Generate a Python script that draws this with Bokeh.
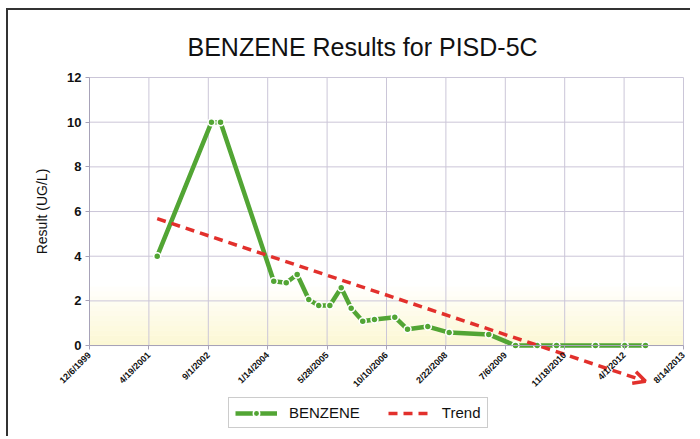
import numpy as np
import pandas as pd
from bokeh.plotting import figure
from bokeh.models import (FixedTicker, Legend, LegendItem, Arrow, OpenHead,
                          BoxAnnotation)
from bokeh.embed import file_html
from bokeh.resources import INLINE

# ---------------- data ----------------
sample_dates = ["2001-06-28", "2002-09-28", "2002-12-13", "2004-03-05", "2004-06-18",
                "2004-09-18", "2004-12-25", "2005-03-19", "2005-06-20", "2005-09-24",
                "2005-12-17", "2006-03-24", "2006-07-01", "2006-12-19", "2007-04-05",
                "2007-09-23", "2008-03-21", "2009-02-17", "2009-09-30", "2010-04-01",
                "2010-09-10", "2011-08-04", "2012-04-07", "2012-09-28"]
benzene = [4.0, 10.0, 10.0, 2.88, 2.81, 3.18, 2.06, 1.79, 1.79, 2.59,
           1.67, 1.09, 1.17, 1.27, 0.73, 0.85, 0.58, 0.50, 0.0, 0.0,
           0.0, 0.0, 0.0, 0.0]
trend_dates = ["2001-06-28", "2012-09-28"]
trend_values = [5.68, -1.6]
x_tick_labels = ["12/6/1999", "4/19/2001", "9/1/2002", "1/14/2004", "5/28/2005",
                 "10/10/2006", "2/22/2008", "7/6/2009", "11/18/2010", "4/1/2012",
                 "8/14/2013"]
y_ticks = [0, 2, 4, 6, 8, 10, 12]


def to_ms(strings, fmt=None):
    d = pd.to_datetime(strings, format=fmt)
    return d.values.astype("datetime64[ms]").astype("int64").tolist()


x_data = to_ms(sample_dates)
x_trend = to_ms(trend_dates)
x_ticks = to_ms(x_tick_labels, "%m/%d/%Y")

GREEN = "#52a534"
RED = "#e2302c"
GRID = "#cbc6d8"
AXIS = "#a7a2b8"
FONT = "Liberation Sans"

# the frame is a little larger than the plot area so that the axes (drawn
# inside the frame at fixed positions) keep all their labels visible
span = x_ticks[-1] - x_ticks[0]
x_start = x_ticks[0] - span * 69 / 594
x_end = x_ticks[-1] + span * 7 / 594
y_end = y_ticks[-1] + 10 / 22.33

p = figure(width=684, height=428, output_backend="svg", toolbar_location=None,
           x_range=(x_start, x_end), y_range=(-4.16, y_end),
           min_border_left=12, min_border_right=2, min_border_top=57,
           min_border_bottom=0, background_fill_color="white",
           border_fill_color="white", outline_line_color=None,
           title="BENZENE Results for PISD-5C")
p.styles = {"margin-left": "6px", "margin-top": "8px",
            "border-top": "2px solid #333333", "border-left": "2px solid #333333"}

p.title.text_font = FONT
p.title.text_font_size = "25px"
p.title.text_font_style = "normal"
p.title.text_color = "#111111"
p.title.align = "left"
p.title.offset = 167
p.title.standoff = 14

# yellow wash near the bottom of the plot area
n_strips = 12
for i in range(n_strips):
    p.add_layout(BoxAnnotation(left=x_ticks[0], right=x_ticks[-1],
                               bottom=i * 0.22, top=(i + 1) * 0.22,
                               fill_color="#f8ee9a",
                               fill_alpha=0.42 * (1 - i / n_strips),
                               line_color=None, level="image"))

# grid (limited to the plot area)
p.xgrid.visible = False
p.ygrid.visible = False
p.segment(x0=x_ticks, y0=[y_ticks[0]] * len(x_ticks), x1=x_ticks,
          y1=[y_ticks[-1]] * len(x_ticks), line_color=GRID, line_width=1,
          level="underlay")
p.segment(x0=[x_ticks[0]] * len(y_ticks), y0=y_ticks,
          x1=[x_ticks[-1]] * len(y_ticks), y1=y_ticks,
          line_color=GRID, line_width=1, level="underlay")

# axes
p.yaxis.fixed_location = x_ticks[0]
p.yaxis.ticker = FixedTicker(ticks=y_ticks)
p.yaxis.bounds = (y_ticks[0], y_ticks[-1])
p.yaxis.axis_label = "Result (UG/L)"
p.yaxis.axis_label_text_font = FONT
p.yaxis.axis_label_text_font_size = "14px"
p.yaxis.axis_label_text_font_style = "normal"
p.yaxis.axis_label_text_color = "#111111"
p.yaxis.axis_label_standoff = 14
p.yaxis.major_label_text_font = FONT
p.yaxis.major_label_text_font_size = "13px"
p.yaxis.major_label_text_font_style = "bold"
p.yaxis.major_label_text_color = "#111111"
p.yaxis.major_label_standoff = 4
p.yaxis.axis_line_color = AXIS
p.yaxis.major_tick_line_color = AXIS
p.yaxis.major_tick_out = 4
p.yaxis.major_tick_in = 0
p.yaxis.minor_tick_line_color = None

p.xaxis.fixed_location = 0
p.xaxis.ticker = FixedTicker(ticks=x_ticks)
p.xaxis.bounds = (x_ticks[0], x_ticks[-1])
p.xaxis.major_label_overrides = {t: s for t, s in zip(x_ticks, x_tick_labels)}
p.xaxis.major_label_orientation = np.pi / 4
p.xaxis.major_label_text_font = FONT
p.xaxis.major_label_text_font_size = "9px"
p.xaxis.major_label_text_font_style = "bold"
p.xaxis.major_label_text_color = "#111111"
p.xaxis.major_label_standoff = 4
p.xaxis.axis_line_color = AXIS
p.xaxis.major_tick_line_color = AXIS
p.xaxis.major_tick_out = 4
p.xaxis.major_tick_in = 0
p.xaxis.minor_tick_line_color = None

# series
ln = p.line(x_data, benzene, line_color=GREEN, line_width=4.5)
pts = p.scatter(x_data, benzene, size=7, fill_color=GREEN,
                line_color="white", line_width=1.5)
tr = p.line(x_trend, trend_values, line_color=RED, line_width=3.5,
            line_dash="9 6")
p.add_layout(Arrow(end=OpenHead(line_color=RED, line_width=3.5, size=12),
                   x_start=x_trend[0], y_start=trend_values[0],
                   x_end=x_trend[-1], y_end=trend_values[-1],
                   line_color=None))

legend = Legend(items=[LegendItem(label="BENZENE", renderers=[ln, pts]),
                       LegendItem(label="Trend", renderers=[tr])],
                orientation="horizontal", location=(208, 10),
                label_text_font=FONT, label_text_font_size="15px",
                label_text_color="#111111",
                glyph_width=42, glyph_height=16, label_standoff=12,
                spacing=28, padding=6, margin=0,
                border_line_color="#999999", background_fill_color="white",
                background_fill_alpha=1.0)
p.add_layout(legend)

open("out.html", "w").write(file_html(p, INLINE))
